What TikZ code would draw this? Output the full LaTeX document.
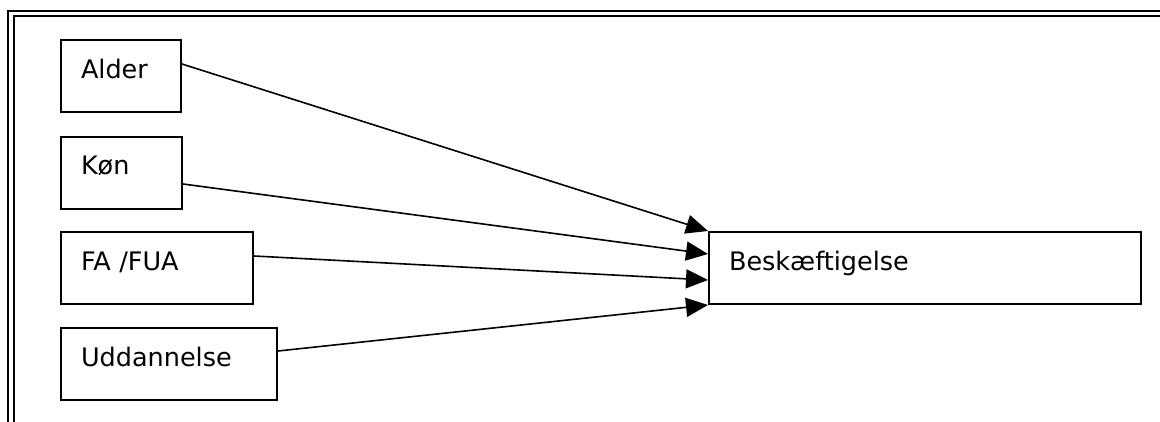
\documentclass[tikz,border=0pt]{standalone}
\usepackage{fontspec}
\setmainfont{DejaVu Sans}
\usetikzlibrary{arrows.meta}

\begin{document}
\begin{tikzpicture}[x=1pt,y=-1pt,
	box/.style={draw,line width=2pt,anchor=north west,inner xsep=20pt,inner ysep=0pt,
		text height=38pt,text depth=34pt,align=left,font=\fontsize{25.5}{30}\selectfont},
	arr/.style={line width=1.6pt,-{Triangle[length=22pt,width=19pt]}}]
	\useasboundingbox (0,0) rectangle (1160,421);
	\clip (0,0) rectangle (1160,421);
	% double frame
	\draw[line width=2.2pt] (8.3,11) rectangle (1180,440);
	\draw[line width=2.2pt] (13.7,15.7) rectangle (1175,435);
	% boxes
	\node[box,text width=80pt] (alder) at (60,39) {Alder};
	\node[box,text width=81pt] (koen) at (60,135.5) {Køn};
	\node[box,text width=152pt] (fa) at (60,231) {FA /FUA};
	\node[box,text width=176pt] (udd) at (60,327) {Uddannelse};
	\node[box,text width=392pt] (besk) at (708,231) {Beskæftigelse};
	% arrows
	\draw[arr] ([yshift=12pt]alder.east) -- (besk.north west);
	\draw[arr] ([yshift=-11.5pt]koen.east) -- ([yshift=14pt]besk.west);
	\draw[arr] ([yshift=12pt]fa.east) -- ([yshift=-12pt]besk.west);
	\draw[arr] ([yshift=13pt]udd.east) -- (besk.south west);
\end{tikzpicture}
\end{document}
